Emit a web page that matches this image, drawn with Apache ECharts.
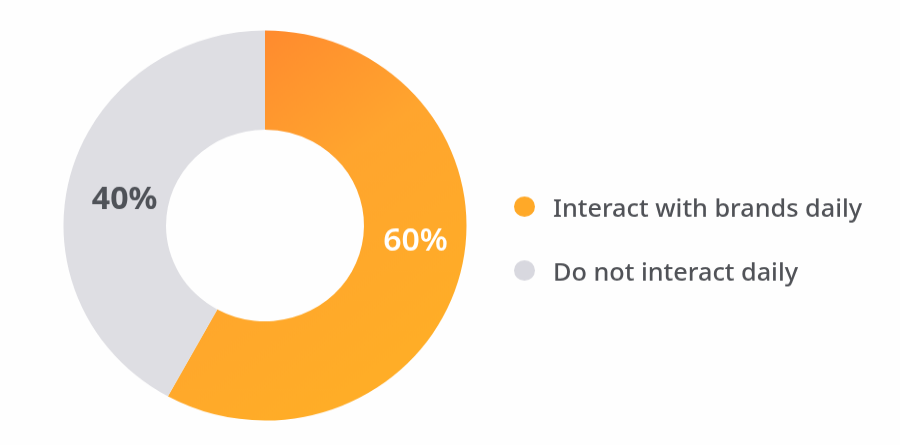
<!DOCTYPE html>
<html><head><meta charset="utf-8">
<style>html,body{margin:0;padding:0;background:#fefefe;overflow:hidden}#c{width:900px;height:460px;transform:scaleY(0.9677);transform-origin:0 0}</style>
<script src="https://cdn.jsdelivr.net/npm/echarts@6/dist/echarts.min.js"></script>
</head><body><div id="c"></div>
<script>
var categories = ["Interact with brands daily", "Do not interact daily"];
var sliceValues = [58, 42];
var sliceLabels = ["60%", "40%"];
var markerColors = ["#FFA928", "#D8D8DF"];
var sliceColors = ["#FFA928", "#DEDEE3"];
var labelColors = ["#ffffff", "#4f5258"];
var labelWeights = [600, 700];
var labelOffsets = [[2,-21],[8,12]];
var chart = echarts.init(document.getElementById('c'), null, {renderer:'canvas'});
chart.setOption({
  animation:false,
  backgroundColor:'#fefefe',
  legend:{
    orient:'vertical', left:509, top:193, icon:'circle', itemWidth:21, itemHeight:21.7, itemGap:35,
    formatter:'{t|{name}}',
    textStyle:{padding:[0,0,0,13], rich:{t:{fontSize:25.25, lineHeight:26, color:'#505257', fontWeight:500, fontFamily:'"Noto Sans"', padding:[6,0,0,0]}}},
    selectedMode:false,
    data:categories.map(function(n,i){return {name:n, itemStyle:{color:markerColors[i]}};})
  },
  series:[{
    type:'pie', center:[265,233], radius:[99,201.5], startAngle:90, clockwise:true,
    avoidLabelOverlap:false, silent:true,
    label:{position:'inside', fontFamily:'"Noto Sans"'},
    labelLine:{show:false},
    data:categories.map(function(n,i){return {
      name:n, value:sliceValues[i],
      itemStyle:{color: i===0 ? new echarts.graphic.LinearGradient(0.3,0,1,0.7,[{offset:0,color:'#FF8A2E'},{offset:0.45,color:'#FFA52E'},{offset:1,color:'#FFAD27'}]) : sliceColors[i]},
      label:{formatter:sliceLabels[i], color:labelColors[i], fontWeight:labelWeights[i], fontSize:32, offset:labelOffsets[i]}
    };})
  }]
});
</script></body></html>
